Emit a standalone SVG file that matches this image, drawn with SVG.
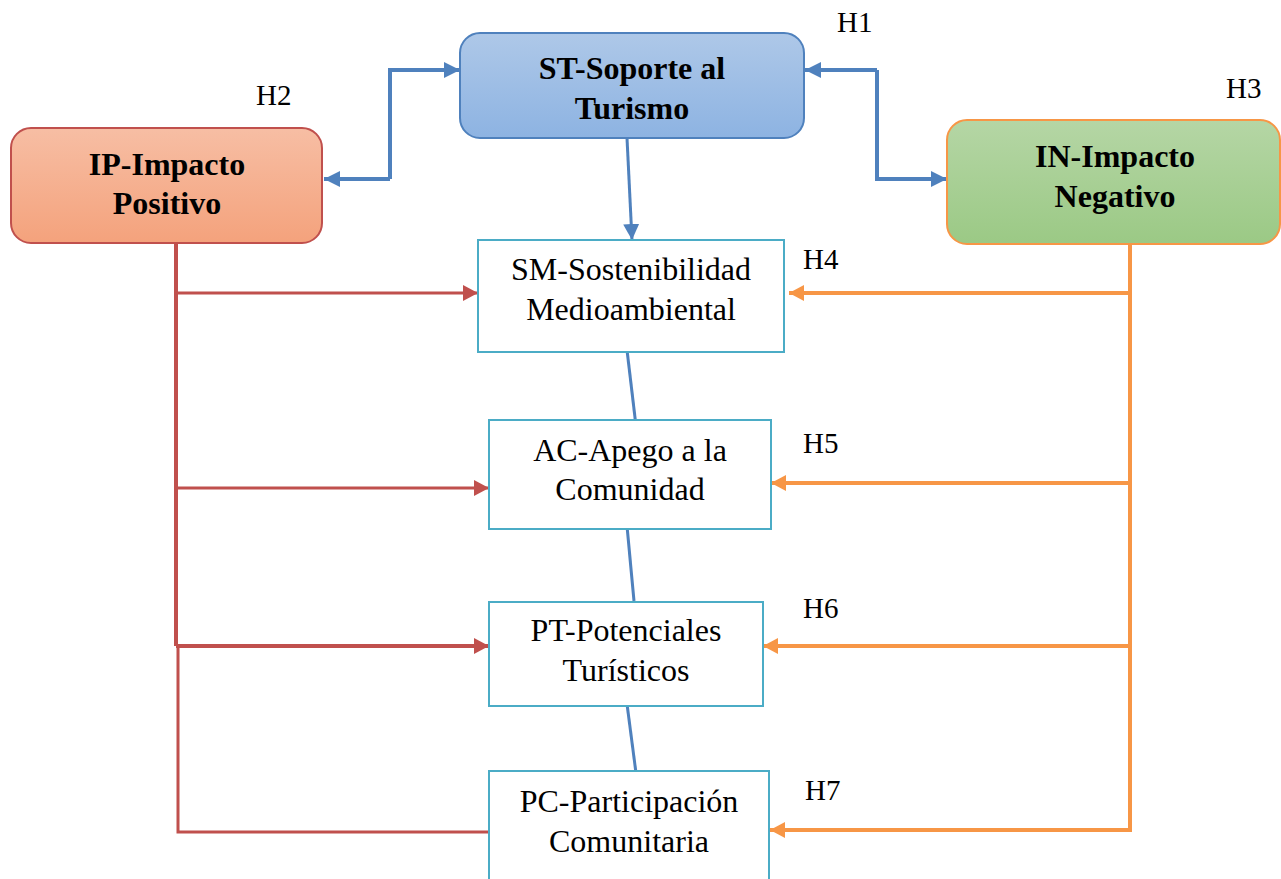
<svg xmlns="http://www.w3.org/2000/svg" width="1281" height="879" viewBox="0 0 1281 879">
<style>
text{font-family:"Liberation Serif","Times New Roman",serif;fill:#000}
.b{font-weight:bold;font-size:32px}
.n{font-size:32px}
.h{font-size:29px}
.box{fill:#fff;stroke:#4bacc6;stroke-width:2}
.bl{fill:none;stroke:#4f81bd;stroke-width:4}
.rd{fill:none;stroke:#c0504d;stroke-width:3}
.or{fill:none;stroke:#f79646;stroke-width:4}
</style>
<defs>
<linearGradient id="gb" x1="0" y1="0" x2="0" y2="1"><stop offset="0" stop-color="#aec8e8"/><stop offset="1" stop-color="#8db3e2"/></linearGradient>
<linearGradient id="gr" x1="0" y1="0" x2="0" y2="1"><stop offset="0" stop-color="#f7bea4"/><stop offset="1" stop-color="#f4a27c"/></linearGradient>
<linearGradient id="gg" x1="0" y1="0" x2="0" y2="1"><stop offset="0" stop-color="#b5d6a5"/><stop offset="1" stop-color="#9bc985"/></linearGradient>
<marker id="ab" markerUnits="userSpaceOnUse" markerWidth="18" markerHeight="18" refX="16" refY="8" orient="auto"><path d="M0,0 L16,8 L0,16 Z" fill="#4f81bd"/></marker>
<marker id="ar" markerUnits="userSpaceOnUse" markerWidth="18" markerHeight="18" refX="15" refY="8" orient="auto"><path d="M0,0 L15,8 L0,16 Z" fill="#c0504d"/></marker>
<marker id="ao" markerUnits="userSpaceOnUse" markerWidth="18" markerHeight="18" refX="15" refY="8" orient="auto"><path d="M0,0 L15,8 L0,16 Z" fill="#f79646"/></marker>
</defs>

<g id="connectors">
<path class="bl" d="M390,179 H324" marker-end="url(#ab)"/>
<path class="bl" d="M390,179 V70 H460" marker-end="url(#ab)"/>
<path class="bl" d="M877,70 H805" marker-end="url(#ab)"/>
<path class="bl" d="M877,70 V179 H947" marker-end="url(#ab)"/>
<path class="bl" style="stroke-width:3" d="M627,138 L632,240" marker-end="url(#ab)"/>
<path class="bl" style="stroke-width:3" d="M627,350 L636,426"/>
<path class="bl" style="stroke-width:3" d="M627,526 L634,601"/>
<path class="bl" style="stroke-width:3" d="M627,704 L636,773"/>

<path class="rd" style="stroke-width:4" d="M176,240 V646"/>
<path class="rd" d="M178,646 V832 H489"/>
<path class="rd" d="M176,293 H478" marker-end="url(#ar)"/>
<path class="rd" d="M176,488 H489" marker-end="url(#ar)"/>
<path class="rd" style="stroke-width:4" d="M176,646 H489" marker-end="url(#ar)"/>

<path class="or" d="M1130,237 V830 H770" marker-end="url(#ao)"/>
<path class="or" d="M1130,293 H789" marker-end="url(#ao)"/>
<path class="or" d="M1130,483 H771" marker-end="url(#ao)"/>
<path class="or" d="M1130,646 H763" marker-end="url(#ao)"/>
</g>

<g id="ST"><rect x="460" y="33" width="344" height="105" rx="20" fill="url(#gb)" stroke="#4f81bd" stroke-width="2"/>
<text class="b" x="632" y="79" text-anchor="middle">ST-Soporte al</text>
<text class="b" x="632" y="119" text-anchor="middle">Turismo</text></g>

<g id="IP"><rect x="11" y="128" width="311" height="115" rx="20" fill="url(#gr)" stroke="#c0504d" stroke-width="2"/>
<text class="b" x="167" y="175" text-anchor="middle">IP-Impacto</text>
<text class="b" x="167" y="214" text-anchor="middle">Positivo</text></g>

<g id="IN"><rect x="947" y="120" width="333" height="124" rx="20" fill="url(#gg)" stroke="#f79646" stroke-width="2"/>
<text class="b" x="1115" y="167" text-anchor="middle">IN-Impacto</text>
<text class="b" x="1115" y="207" text-anchor="middle">Negativo</text></g>

<g id="SM"><rect class="box" x="478" y="240" width="306" height="112"/>
<text class="n" x="631" y="280" text-anchor="middle">SM-Sostenibilidad</text>
<text class="n" x="631" y="320" text-anchor="middle">Medioambiental</text></g>

<g id="AC"><rect class="box" x="489" y="420" width="282" height="109"/>
<text class="n" x="630" y="461" text-anchor="middle">AC-Apego a la</text>
<text class="n" x="630" y="500" text-anchor="middle">Comunidad</text></g>

<g id="PT"><rect class="box" x="489" y="602" width="274" height="104"/>
<text class="n" x="626" y="641" text-anchor="middle">PT-Potenciales</text>
<text class="n" x="626" y="681" text-anchor="middle">Turísticos</text></g>

<g id="PC"><rect class="box" x="489" y="771" width="280" height="120"/>
<text class="n" x="629" y="812" text-anchor="middle">PC-Participación</text>
<text class="n" x="629" y="852" text-anchor="middle">Comunitaria</text></g>

<g id="labels">
<text class="h" x="837" y="32">H1</text>
<text class="h" x="256" y="105">H2</text>
<text class="h" x="1226" y="98">H3</text>
<text class="h" x="803" y="269">H4</text>
<text class="h" x="803" y="453">H5</text>
<text class="h" x="803" y="618">H6</text>
<text class="h" x="805" y="800">H7</text>
</g>
</svg>
